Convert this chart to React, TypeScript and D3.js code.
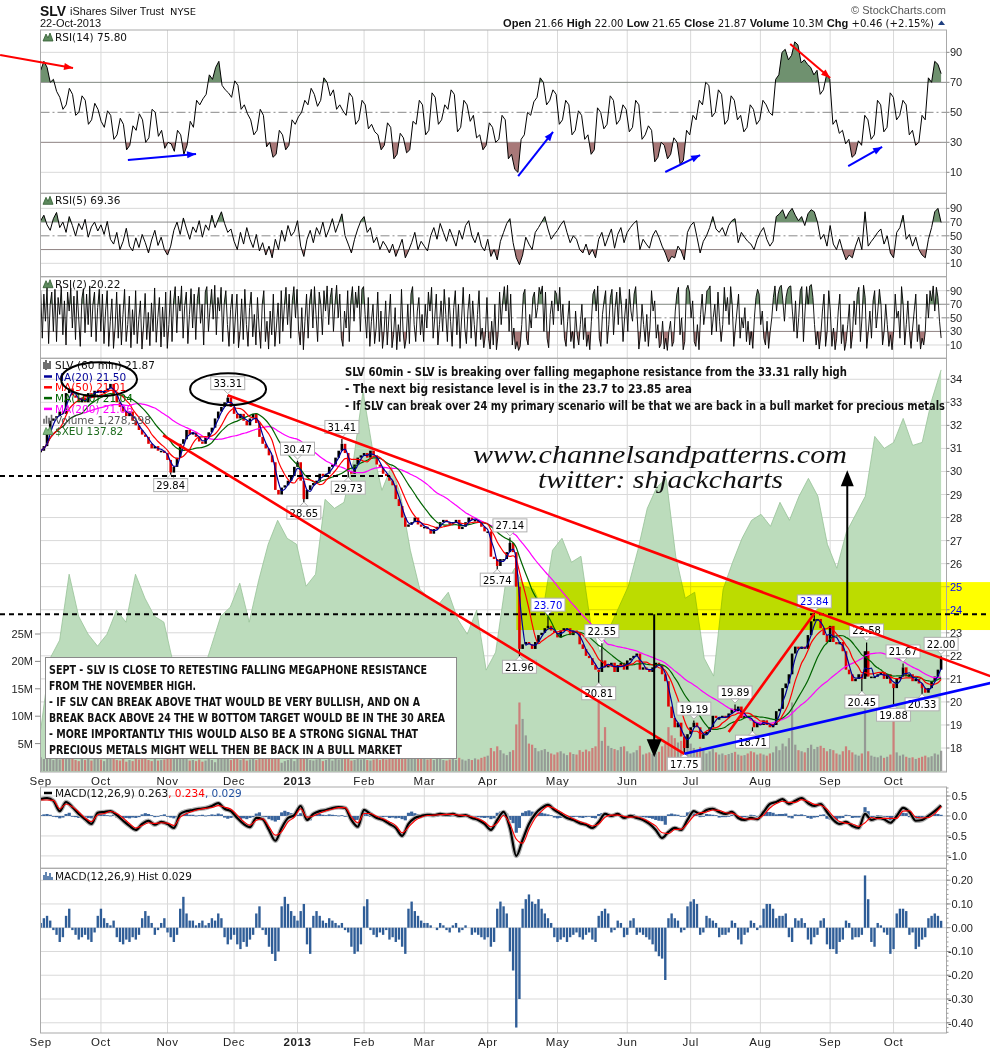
import React from 'react';
import * as d3 from 'd3';

// ---------------- DATA ----------------
const MONTH_LABELS = ['Sep', 'Oct', 'Nov', 'Dec', '2013', 'Feb', 'Mar', 'Apr', 'May', 'Jun', 'Jul', 'Aug', 'Sep', 'Oct'];
const MONTH_START = [0, 19, 40, 61, 81, 102, 121, 141, 163, 185, 205, 227, 249, 269];

// daily closes (trading-day index 0..284)
const CLOSE = [
  30.9, 31.1, 31.6, 32.2, 32.3, 32.4, 32.6, 32.5, 33.4, 33.6, 33.3, 33.2, 33.0, 33.2, 33.0, 33.4, 33.3, 33.5, 33.5,
  33.4, 33.5, 33.6, 33.8, 33.3, 33.0, 32.8, 32.6, 32.4, 32.6, 32.2, 32.0, 31.8, 31.6, 31.5, 31.2, 31.0, 31.1, 30.9, 30.9, 30.8,
  30.5, 29.95, 30.2, 30.6, 31.2, 31.4, 31.8, 31.6, 31.7, 31.5, 31.3, 31.2, 31.5, 31.7, 31.9, 32.3, 32.6, 32.8, 33.0, 33.2, 32.8,
  32.5, 32.3, 32.5, 32.2, 32.0, 32.3, 32.5, 32.1, 31.5, 31.2, 31.0, 30.7, 30.4, 29.2, 29.0, 29.3, 29.4, 29.6, 29.8, 30.2,
  30.4, 29.6, 28.8, 29.2, 29.4, 29.5, 29.6, 29.9, 29.8, 29.9, 30.2, 30.3, 30.6, 30.9, 31.2, 30.8, 30.0, 29.9, 30.3, 30.6, 30.7,
  30.8, 30.6, 30.9, 30.7, 30.3, 30.2, 29.9, 29.8, 29.6, 29.4, 28.8, 28.5, 28.0, 27.6, 27.7, 27.8, 28.0, 27.7, 27.6,
  27.6, 27.5, 27.3, 27.5, 27.6, 27.8, 27.9, 27.8, 27.7, 27.8, 27.9, 27.5, 27.6, 27.8, 28.0, 27.9, 27.9, 27.8, 27.6, 27.4,
  27.4, 26.3, 26.2, 25.9, 26.2, 26.2, 26.5, 26.9, 26.5, 25.0, 22.3, 22.5, 22.6, 22.5, 22.3, 22.6, 22.9, 23.0, 23.2, 23.3, 23.1, 23.0,
  22.8, 23.1, 23.2, 23.2, 22.9, 23.1, 23.0, 22.5, 22.3, 22.0, 21.9, 21.6, 21.4, 21.3, 21.8, 21.5, 21.6, 21.7, 21.3, 21.6, 21.7, 21.4,
  21.8, 21.9, 22.0, 22.1, 21.4, 21.5, 21.4, 21.3, 21.5, 21.7, 21.6, 21.2, 20.9, 19.8, 19.3, 18.9, 19.1, 18.5, 18.0, 18.6,
  18.9, 19.1, 18.9, 18.4, 18.6, 18.7, 18.9, 19.4, 19.3, 19.3, 19.4, 19.3, 19.5, 19.7, 19.6, 19.8, 19.3, 19.4, 19.3, 19.2, 18.9, 19.1,
  19.0, 19.2, 19.0, 18.9, 19.0, 19.6, 19.7, 20.6, 20.8, 21.2, 22.1, 22.4, 22.3, 22.4, 22.3, 22.9, 23.5, 23.6, 23.6, 23.2, 22.9, 22.6,
  23.3, 22.6, 22.5, 22.6, 22.2, 21.4, 21.2, 20.9, 21.0, 21.2, 21.0, 22.2, 21.1, 21.1, 21.1, 21.2, 21.3, 21.0, 21.2, 20.8,
  20.6, 21.0, 21.1, 21.5, 21.1, 21.2, 20.9, 21.0, 20.8, 20.6, 20.4, 20.6, 20.9, 21.1, 21.4, 21.87,
];

// hourly-scale volume (millions), one value per trading day
const VOLUME = [
  2.5, 2.2, 2.8, 3.5, 2.0, 2.4, 2.1, 3.0, 4.5, 3.8, 2.2, 2.0, 1.8, 2.3, 2.0, 2.6, 1.9, 2.2, 2.5,
  2.1, 1.8, 2.4, 3.2, 2.8, 2.0, 1.9, 2.2, 1.7, 2.0, 1.8, 2.3, 2.1, 2.6, 2.4, 2.0, 1.8, 2.2, 1.9, 2.0, 2.1,
  2.5, 4.0, 2.8, 2.2, 3.0, 2.4, 2.6, 1.9, 2.0, 1.8, 2.1, 1.7, 1.9, 2.2, 2.0, 1.6, 2.3, 2.5, 3.2, 2.4, 2.0,
  2.2, 2.5, 2.0, 2.3, 1.9, 2.1, 2.4, 2.0, 2.8, 2.5, 2.2, 2.6, 2.9, 4.2, 3.5, 1.5, 1.8, 2.0, 2.2, 1.8,
  2.6, 2.8, 3.5, 2.2, 2.0, 1.9, 2.1, 2.4, 1.8, 2.0, 2.2, 1.9, 2.3, 2.1, 2.6, 2.4, 2.2, 1.9, 2.0, 2.3, 2.1,
  2.2, 2.0, 1.9, 2.1, 2.3, 2.0, 2.2, 2.1, 2.4, 2.6, 3.2, 3.0, 3.6, 3.4, 2.8, 2.5, 2.4, 2.6, 2.2,
  2.3, 2.1, 2.4, 2.0, 2.2, 2.3, 2.0, 1.9, 2.1, 2.2, 2.0, 2.4, 2.1, 1.9, 2.2, 2.0, 2.3, 2.1, 2.4, 2.6,
  2.8, 4.2, 3.6, 4.5, 3.8, 3.2, 2.9, 3.5, 3.8, 8.5, 12.5, 9.5, 6.5, 5.0, 4.8, 4.2, 3.6, 3.8, 4.0, 3.5, 3.2, 3.0,
  3.4, 3.6, 3.2, 2.9, 3.4, 3.1, 3.0, 3.8, 3.5, 3.9, 3.6, 4.2, 4.5, 13.0, 5.5, 8.0, 4.6, 4.2, 4.0, 3.8, 4.4, 4.5,
  3.6, 3.2, 3.4, 3.8, 4.6, 3.0, 3.2, 3.4, 3.1, 3.3, 3.5, 4.5, 5.0, 8.0, 6.5, 6.0, 5.2, 5.5, 6.8, 5.8,
  5.0, 4.2, 3.6, 4.4, 3.8, 3.2, 3.6, 4.0, 3.4, 3.0, 3.2, 2.9, 3.1, 3.3, 3.5, 3.0, 2.8, 2.9, 3.2, 3.6, 3.4, 3.0,
  3.2, 3.0, 2.8, 3.2, 3.4, 4.5, 3.8, 5.0, 4.5, 6.0, 12.5, 4.8, 3.8, 3.6, 3.4, 4.2, 4.8, 4.0, 4.4, 4.6, 4.2, 3.6,
  4.0, 3.8, 3.2, 3.0, 3.6, 4.5, 3.8, 3.4, 3.0, 2.8, 3.2, 12.5, 3.6, 2.8, 2.6, 2.5, 2.8, 2.4, 2.6, 3.0,
  11.5, 3.4, 2.8, 3.0, 2.6, 2.4, 2.5, 2.2, 2.4, 2.6, 2.8, 2.5, 2.7, 3.2, 3.0, 3.7,
];

// $XEU overlay, roughly every third trading day
const XEU = [
  125.8, 128.2, 128.8, 131.0, 129.6, 129.0, 128.6, 129.0, 129.8, 129.4, 131.0, 130.2, 129.6, 129.4, 128.0, 127.6,
  127.0, 127.6, 128.6, 129.6, 129.9, 130.7, 129.4, 130.8, 132.0, 132.8, 132.2, 132.0, 130.6, 131.0, 133.5, 133.2,
  133.4, 134.8, 137.1, 135.2, 133.8, 134.6, 133.6, 131.8, 130.5, 130.2, 130.0, 130.4, 129.5, 129.0, 129.8, 127.8,
  128.4, 130.6, 131.2, 130.6, 130.5, 129.8, 131.8, 132.2, 131.4, 131.6, 129.4, 128.4, 129.2, 129.9, 130.6, 131.8,
  133.2, 133.9, 134.2, 131.6, 130.2, 130.4, 128.2, 127.6, 130.5, 131.4, 132.2, 132.8, 133.0, 132.6, 133.4, 132.8,
  133.6, 134.2, 133.6, 132.0, 131.2, 132.4, 133.0, 133.6, 135.6, 135.2, 135.4, 136.2, 135.3, 135.4, 136.8, 137.82,
];

// RSI(14), daily
const RSI14 = [
  78, 84, 80, 70, 72, 64, 60, 52, 55, 66, 62, 48, 50, 61, 58, 42, 45, 56, 52,
  44, 40, 51, 48, 32, 35, 46, 42, 25, 28, 41, 38, 49, 45, 30, 33, 52, 50,
  34, 38, 26, 30, 29, 24, 38, 35, 22, 28, 44, 40,
  58, 55, 59, 62, 75, 72, 80, 84, 68, 65, 63, 60,
  71, 68, 52, 55, 49, 45, 35, 38, 52, 48, 27, 30,
  20, 22, 38, 35, 25, 28, 45, 42,
  47, 50, 58, 55, 66, 62, 54, 58, 73, 70, 61, 65, 52, 55,
  51, 48, 63, 60, 42, 45, 58, 55, 39, 42,
  37, 35, 25, 28, 43, 40, 19, 22, 36, 33, 23, 25,
  44, 42, 58, 55, 35, 38, 63, 60, 42, 45, 55, 52, 65, 62, 37, 40, 58, 55, 44, 48,
  33, 35, 25, 28, 43, 40, 30, 32,
  48, 45, 19, 22, 12, 10,
  32, 35, 50, 48, 57, 60, 73, 70, 55, 58, 65, 62,
  42, 45, 58, 55, 35, 38, 51, 48, 32, 35, 22, 25,
  53, 50, 39, 42, 61, 58, 42, 45, 55, 52, 37, 40, 58, 55, 32, 35, 41, 38, 17, 20,
  30, 28, 19, 22, 33, 30, 15, 18, 38, 35, 48, 45,
  58, 55, 70, 68, 47, 50, 65, 62, 42, 45, 61, 58, 45, 48,
  37, 40, 55, 52, 42, 45, 58, 55, 50, 48,
  72, 75, 90, 92, 85, 88, 97, 95, 83, 85, 82, 80,
  75, 78, 62, 65, 75, 72, 42, 45,
  36, 38, 29, 32, 20, 22, 31, 28,
  48, 45, 32, 35, 58, 55, 37, 40, 63, 60, 45, 48,
  58, 55, 35, 38, 28, 30, 48, 45,
  73, 70, 84, 82, 75.8,
];

// RSI(5), daily
const RSI5 = [
  72, 80, 66, 58, 75, 84, 62, 70, 55, 78, 65, 50, 68, 59, 74, 48, 63, 70, 57,
  66, 52, 71, 45, 38, 55, 30, 42, 61, 35, 28, 47, 33, 52, 40, 25, 44, 58, 36, 48, 30,
  22, 35, 58, 70, 52, 76, 60, 45, 63, 55, 72, 48, 66, 58, 80, 62, 74, 85, 68, 55, 60,
  42, 30, 55, 38, 62, 45, 33, 52, 28, 40, 22, 35, 18, 45, 30, 58, 42, 65, 50, 56,
  72, 35, 20, 45, 58, 40, 62, 52, 70, 48, 60, 75, 55, 68, 82, 50, 38, 25, 45, 60, 72,
  78, 55, 62, 40, 48, 30, 42, 35, 25, 38, 20, 32, 45, 18, 28, 40, 55, 30, 42,
  35, 28, 50, 62, 45, 68, 55, 42, 60, 48, 35, 58, 45, 65, 72, 50, 40, 55, 35, 28,
  45, 20, 30, 15, 42, 55, 68, 75, 40, 18, 8, 22, 48, 38, 30, 55, 62, 70, 78, 60, 45, 52,
  58, 66, 72, 55, 40, 50, 45, 30, 25, 38, 22, 30, 18, 45, 55, 35, 48, 60, 32, 52, 62, 40,
  55, 62, 68, 72, 30, 45, 38, 32, 50, 58, 48, 35, 25, 12, 20, 18, 35, 28, 15, 55,
  65, 70, 48, 25, 42, 50, 62, 78, 60, 55, 62, 50, 65, 72, 75, 40, 55, 48, 42, 38, 30, 45,
  55, 62, 45, 35, 42, 78, 82, 88, 75, 84, 90, 80, 72, 78, 65, 82, 88, 85, 70, 45, 52, 35,
  65, 38, 30, 45, 28, 15, 22, 18, 35, 48, 30, 85, 35, 42, 48, 55, 60, 38, 50, 25,
  18, 55, 62, 80, 45, 52, 35, 48, 30, 22, 18, 45, 62, 85, 90, 69.36,
];

// RSI(2), two readings per trading day
const RSI2 = [
  90, 20, 85, 45, 95, 12, 70, 88, 30, 92, 15, 80, 55, 96, 25, 75, 10, 88, 60, 94,
  35, 82, 18, 90, 50, 8, 78, 93, 28, 85, 40, 97, 22, 70, 88, 15, 65, 92,
  30, 85, 12, 60, 90, 8, 45, 78, 5, 35, 88, 20, 70, 10, 55, 92, 15, 40, 82, 6,
  62, 25, 90, 12, 48, 75, 4, 38, 86, 18, 58, 9, 72, 30, 94, 14, 50, 80, 7, 66, 22, 88,
  5, 40, 90, 15, 75, 96, 28, 82, 60, 97, 20, 68, 88, 12, 55, 93, 35, 85, 18, 78,
  95, 42, 70, 10, 88, 96, 30, 65, 92, 48, 98, 25, 80, 60, 95, 15, 72, 90, 40, 8, 62, 85,
  12, 50, 85, 6, 30, 78, 18, 92, 40, 8, 65, 88, 22, 55, 10, 80, 35, 5, 70, 90,
  15, 45, 4, 60, 25, 85, 8, 38, 72, 12, 90, 30, 68, 95, 40, 85, 20, 75, 96, 50,
  92, 30, 10, 65, 3, 45, 85, 20, 75, 92, 35, 96, 55, 15, 88, 70, 25, 90, 60, 97,
  40, 80, 94, 30, 72, 98, 50, 85, 20, 8, 60, 35, 90, 15, 75, 96, 45, 88, 65, 97, 30, 92,
  96, 55, 20, 80, 8, 45, 70, 12, 35, 88, 15, 60, 5, 30, 75, 10, 50, 85, 6, 25,
  65, 3, 40, 15, 92, 30, 5, 20, 70, 12, 85, 96, 40, 15, 60, 80, 25, 55,
  15, 70, 35, 88, 60, 95, 20, 50, 85, 10, 40, 75, 30, 92, 55, 15, 80, 45, 8, 65,
  90, 25, 70, 5, 50, 95, 35, 12, 60, 85, 20, 75, 40, 8, 55, 90, 18, 35, 6, 25,
  80, 20, 4, 45, 10, 70, 3, 25, 88, 40, 75, 96, 60, 98, 30, 85, 10, 35, 4, 15,
  2, 8, 40, 85, 92, 20, 10, 55, 35, 80, 88, 50, 65, 95, 85, 97, 30, 88, 20, 6, 55, 75, 40, 90,
  85, 60, 95, 40, 70, 20, 8, 45, 75, 15, 30, 5, 60, 25, 10, 40, 70, 18, 50, 8,
  25, 3, 45, 85, 92, 60, 97, 20, 8, 55, 75, 90, 12, 40, 80, 92, 25, 65, 88, 40, 95, 70, 15, 50,
  78, 30, 92, 60, 45, 85, 96, 50, 4, 25, 70, 40, 15, 55, 8, 35, 90, 60, 75, 20,
  40, 6, 12, 45, 4, 20, 2, 30, 45, 8, 15, 60, 85, 95, 25, 50, 3, 15, 92, 98,
  88, 50, 75, 15, 8, 40, 3, 55, 85, 40, 60, 90, 92, 97, 25, 50, 70, 30, 88, 45,
  15, 40, 95, 60, 80, 40, 96, 70, 8, 35, 60, 85, 20, 50, 35, 65, 15, 45, 10, 30, 5, 50, 80, 92,
  85, 40, 60, 20, 10, 45, 5, 30, 50, 80, 97, 60, 85, 95, 98, 75, 45, 80, 92, 96,
  97, 60, 30, 75, 20, 50, 90, 96, 15, 60, 96, 70, 97, 99, 80, 40, 10, 30, 4, 25, 60, 85, 8, 30,
  90, 60, 8, 35, 3, 20, 60, 85, 12, 40, 2, 15, 40, 70, 5, 25, 75, 40, 85, 95,
  15, 50, 98, 80, 5, 30, 60, 20, 75, 90, 35, 60, 92, 70, 10, 30, 70, 40, 8, 25,
  3, 30, 85, 50, 60, 20, 96, 70, 10, 40, 75, 30, 5, 35, 60, 85, 15, 40, 4, 20,
  10, 30, 85, 50, 90, 75, 97, 60, 95, 80, 45, 20.22,
];

// MACD(12,26,9) line, every second trading day
const MACD = [
  0.42, 0.45, 0.38, 0.12, 0.35, 0.22, 0.05, -0.08, -0.2, 0.08,
  0.1, 0.12, 0.02, -0.12, -0.25, -0.35, -0.2, -0.12, -0.22, -0.15,
  -0.2, -0.3, 0.05, 0.12, 0.15, 0.18, 0.2, 0.25, 0.32, 0.18,
  0.12, -0.05, -0.2, -0.28, -0.05, -0.08, -0.35, -0.62, -0.3, -0.05,
  0.02, 0.25, -0.1, 0.05, 0.12, 0.15, 0.2, 0.22, 0.2, -0.1,
  -0.27, 0.15, 0.05, -0.05, -0.1, -0.2, -0.3, -0.5, -0.2, -0.05,
  0.0, 0.03, 0.02, 0.05, 0.03, 0.05, 0.0, 0.02, -0.05, -0.1,
  -0.2, -0.35, -0.1, 0.1, -0.3, -1.0, -0.6, -0.2, 0.05, 0.2,
  0.28, 0.15, 0.05, -0.05, -0.1, -0.18, -0.22, -0.3, -0.15, 0.05,
  0.0, 0.05, -0.05, 0.0, -0.05, -0.1, -0.2, -0.35, -0.55, -0.4,
  -0.3, -0.35, -0.1, 0.12, 0.05, 0.15, 0.18, 0.1, 0.05, 0.1,
  -0.05, -0.1, -0.05, -0.08, 0.1, 0.3, 0.35, 0.42, 0.3, 0.38,
  0.45, 0.32, 0.25, 0.3, 0.1, -0.1, -0.2, -0.15, -0.25, -0.3,
  0.05, -0.1, -0.05, -0.08, -0.17, 0.0, 0.2, 0.1, -0.12, -0.1,
  0.0, 0.12, 0.263,
];

// MACD histogram, daily
const HIST = [
  0.02, 0.04, 0.05, 0.03, -0.01, -0.03, -0.06, -0.04, 0.05, 0.08, -0.01, -0.03, -0.05, -0.04, -0.03, -0.05, -0.06, -0.02, 0.05, 0.08,
  0.04, 0.02, 0.01, 0.03, -0.04, -0.06, -0.07, -0.05, -0.06, -0.04, -0.05, -0.03, 0.04, 0.07, 0.05, 0.02, -0.03, -0.01, 0.02, 0.04,
  -0.02, -0.04, -0.06, -0.03, 0.08, 0.13, 0.06, 0.03, 0.03, 0.01, 0.02, 0.03, 0.01, 0.02, 0.04, 0.03, 0.06, 0.04, -0.04, -0.07,
  -0.05, -0.03, -0.07, -0.09, -0.06, -0.08, -0.05, -0.03, 0.06, 0.09, -0.01, -0.03, -0.08, -0.11, -0.14, -0.1, 0.09, 0.13, 0.1, 0.07,
  0.05, 0.03, 0.07, 0.1, -0.07, -0.11, 0.05, 0.07, 0.05, 0.03, 0.02, 0.04, 0.03, 0.02, 0.01, 0.02, -0.01, -0.02, -0.08, -0.11,
  -0.1, -0.07, 0.09, 0.12, -0.01, -0.03, -0.04, -0.02, -0.03, -0.01, -0.05, -0.04, -0.06, -0.05, -0.08, -0.11, 0.08, 0.11, 0.07, 0.05,
  0.03, 0.02, 0.02, 0.01, 0.0, -0.01, 0.02, 0.01, -0.01, -0.02, 0.01, 0.02, -0.02, -0.01, 0.01, 0.0, -0.03, -0.02, -0.03, -0.04,
  -0.05, -0.04, -0.08, -0.06, 0.08, 0.11, 0.09, 0.06, -0.1, -0.18, -0.42, -0.3, 0.08, 0.12, 0.14, 0.11, 0.1, 0.12, 0.08, 0.06,
  0.04, 0.02, -0.04, -0.06, -0.05, -0.04, -0.06, -0.04, -0.03, -0.02, -0.04, -0.05, -0.03, -0.02, -0.05, -0.06, 0.05, 0.07, 0.08, 0.06,
  -0.02, -0.01, 0.03, 0.02, -0.04, -0.03, 0.03, 0.04, -0.03, -0.02, -0.03, -0.04, -0.05, -0.07, -0.1, -0.12, -0.13, -0.22, 0.04, 0.06,
  0.04, 0.03, -0.02, -0.01, 0.09, 0.11, 0.12, 0.1, -0.03, -0.02, 0.05, 0.04, 0.03, 0.02, -0.04, -0.03, -0.03, -0.02, 0.03, 0.02,
  -0.05, -0.07, -0.03, -0.02, 0.03, 0.02, -0.01, 0.01, 0.08, 0.1, 0.1, 0.08, 0.04, 0.05, 0.05, 0.06, -0.04, -0.06, 0.04, 0.03,
  0.04, 0.02, -0.05, -0.07, -0.04, -0.03, 0.03, 0.04, -0.07, -0.09, -0.09, -0.11, -0.06, -0.05, 0.03, 0.02, -0.05, -0.04, -0.04, -0.03,
  0.22, 0.12, -0.06, -0.08, 0.02, 0.01, -0.02, -0.03, -0.11, -0.09, 0.06, 0.08, 0.08, 0.07, -0.03, -0.02, -0.09, -0.08, -0.05, -0.04,
  0.04, 0.05, 0.06, 0.05, 0.029,
];

// price annotations: trading-day index, price, above/below, colour
const PRICE_LABELS = [
  { d: 59, v: 33.31, pos: 'hi', c: '#000' },
  { d: 41, v: 29.84, pos: 'lo', c: '#000' },
  { d: 81, v: 30.47, pos: 'hi', c: '#000' },
  { d: 83, v: 28.65, pos: 'lo', c: '#000' },
  { d: 95, v: 31.41, pos: 'hi', c: '#000' },
  { d: 97, v: 29.73, pos: 'lo', c: '#000' },
  { d: 148, v: 27.14, pos: 'hi', c: '#000' },
  { d: 144, v: 25.74, pos: 'lo', c: '#000' },
  { d: 160, v: 23.70, pos: 'hi', c: '#0000ee' },
  { d: 151, v: 21.96, pos: 'lo', c: '#000' },
  { d: 177, v: 22.55, pos: 'hi', c: '#000' },
  { d: 176, v: 20.81, pos: 'lo', c: '#000' },
  { d: 206, v: 19.19, pos: 'hi', c: '#000' },
  { d: 203, v: 17.75, pos: 'lo', c: '#000' },
  { d: 219, v: 19.89, pos: 'hi', c: '#000' },
  { d: 224.5, v: 18.71, pos: 'lo', c: '#000' },
  { d: 244, v: 23.84, pos: 'hi', c: '#0000ee' },
  { d: 260.5, v: 22.58, pos: 'hi', c: '#000' },
  { d: 259, v: 20.45, pos: 'lo', c: '#000' },
  { d: 272, v: 21.67, pos: 'hi', c: '#000' },
  { d: 269, v: 19.88, pos: 'lo', c: '#000' },
  { d: 278, v: 20.33, pos: 'lo', c: '#000' },
  { d: 284, v: 22.00, pos: 'hi', c: '#000' },
];

const PRICE_TICKS = [18, 19, 20, 21, 22, 23, 24, 25, 26, 27, 28, 29, 30, 31, 32, 33, 34];
const VOL_TICKS = [5, 10, 15, 20, 25];
const RSI_TICKS = [90, 70, 50, 30, 10];
const MACD_TICKS = [0.5, 0.0, -0.5, -1.0];
const HIST_TICKS = [0.2, 0.1, 0.0, -0.1, -0.2, -0.3, -0.4];

const SANS = 'Liberation Sans, Arial, Helvetica, sans-serif';
const VERD = 'DejaVu Sans, Verdana, sans-serif';
const NARROW = 'Liberation Sans Narrow, DejaVu Sans Condensed, Arial Narrow, sans-serif';

function sma(arr: number[], w: number) {
  return arr.map((_, i) => d3.mean(arr.slice(Math.max(0, i - w + 1), i + 1)) as number);
}

function head(x1: number, y1: number, x2: number, y2: number, len: number, wid: number) {
  const a = Math.atan2(y2 - y1, x2 - x1);
  const bx = x2 - len * Math.cos(a), by = y2 - len * Math.sin(a);
  const px = Math.sin(a) * wid / 2, py = -Math.cos(a) * wid / 2;
  return `${x2},${y2} ${bx + px},${by + py} ${bx - px},${by - py}`;
}

export default function App() {
  const X0 = 40.5, X1 = 946.5, PW = X1 - X0;
  const x = d3.scaleLinear().domain([0, 285.7]).range([40.7, 946.5]);
  const xi = (n: number) => (i: number) => x((i * 284) / (n - 1));

  const P = {
    rsi14: { top: 30, bottom: 193.3, y: d3.scaleLinear().domain([-4, 104.9]).range([193.3, 30]) },
    rsi5: { top: 193.3, bottom: 276.7, y: d3.scaleLinear().domain([-9.5, 111.9]).range([276.7, 193.3]) },
    rsi2: { top: 276.7, bottom: 358.3, y: d3.scaleLinear().domain([-9.6, 110.6]).range([358.3, 276.7]) },
    main: { top: 358.3, bottom: 772, y: d3.scaleLinear().domain([16.96, 34.91]).range([772, 358.3]) },
    macd: { top: 787, bottom: 868.3, y: d3.scaleLinear().domain([-1.31, 0.725]).range([868.3, 787]) },
    hist: { top: 868.3, bottom: 1033, y: d3.scaleLinear().domain([-0.443, 0.25]).range([1033, 868.3]) },
  };
  const yP = P.main.y;
  const yV = d3.scaleLinear().domain([0, 25]).range([771, 634]);
  const yX = d3.scaleLinear().domain([124.4, 137.9]).range([772, 367.5]);

  const GRID = '#d9d9d9';
  const BORDER = '#a9a9a9';
  const monthXs = MONTH_START.map((d) => x(d));

  const vGrid = (top: number, bottom: number, k: string) =>
    monthXs.slice(1).map((mx, i) => <line key={k + i} x1={mx} x2={mx} y1={top} y2={bottom} stroke={GRID} strokeWidth={1} />);

  // ---- RSI panels
  const rsiPanel = (key: string, p: any, data: number[], label: string, sw: number) => {
    const n = data.length;
    const fx = xi(n);
    const line = d3.line<number>().x((_, i) => fx(i)).y((v) => p.y(v));
    const aHi = d3.area<number>().x((_, i) => fx(i)).y0(p.y(70)).y1((v) => p.y(v));
    const aLo = d3.area<number>().x((_, i) => fx(i)).y0(p.y(30)).y1((v) => p.y(v));
    return (
      <g key={key}>
        <defs>
          <clipPath id={key + 'hi'}><rect x={X0} y={p.top} width={PW} height={p.y(70) - p.top} /></clipPath>
          <clipPath id={key + 'lo'}><rect x={X0} y={p.y(30)} width={PW} height={p.bottom - p.y(30)} /></clipPath>
        </defs>
        {vGrid(p.top, p.bottom, key + 'vg')}
        {[90, 10].map((t) => <line key={t} x1={X0} x2={X1} y1={p.y(t)} y2={p.y(t)} stroke={GRID} />)}
        <line x1={X0} x2={X1} y1={p.y(70)} y2={p.y(70)} stroke="#8a8a8a" strokeWidth={1} />
        <line x1={X0} x2={X1} y1={p.y(30)} y2={p.y(30)} stroke="#8a8a8a" strokeWidth={1} />
        <line x1={X0} x2={X1} y1={p.y(50)} y2={p.y(50)} stroke="#8a8a8a" strokeWidth={1} strokeDasharray="9,3,2,3" />
        <path d={aHi(data) || ''} fill="#6f916f" clipPath={`url(#${key}hi)`} />
        <path d={aLo(data) || ''} fill="#a87878" clipPath={`url(#${key}lo)`} />
        <path d={line(data) || ''} fill="none" stroke="#000" strokeWidth={sw} />
        <rect x={X0} y={p.top} width={PW} height={p.bottom - p.top} fill="none" stroke={BORDER} />
        {RSI_TICKS.map((t) => (
          <g key={'t' + t}>
            <line x1={X1} x2={X1 + 3} y1={p.y(t)} y2={p.y(t)} stroke="#888" />
            <text x={950} y={p.y(t) + 4} fontFamily={SANS} fontSize={11} fill="#222">{t}</text>
          </g>
        ))}
        <path d={`M43,${p.top + 11} L46,${p.top + 4} L48,${p.top + 8} L50,${p.top + 3} L53,${p.top + 11} Z`} fill="#5d8a5d" stroke="#2f5a2f" strokeWidth={0.8} />
        <text x={55} y={p.top + 11} fontFamily={VERD} fontSize={10.5} fill="#111">{label}</text>
      </g>
    );
  };

  // ---- main panel series
  const ma20 = sma(CLOSE, 3), ma50 = sma(CLOSE, 7), ma100 = sma(CLOSE, 14), ma200 = sma(CLOSE, 29);
  const fxD = xi(CLOSE.length);
  const maLine = d3.line<number>().x((_, i) => fxD(i)).y((v) => yP(v)).curve(d3.curveMonotoneX);
  const fxX = xi(XEU.length);
  const xeuArea = d3.area<number>().x((_, i) => fxX(i)).y0(772).y1((v) => yX(v));
  const xeuLine = d3.line<number>().x((_, i) => fxX(i)).y((v) => yX(v));

  // ---- MACD
  const fxM = xi(MACD.length);
  const fxH = xi(HIST.length);
  const SIGNAL = MACD.map((m, i) => m - HIST[Math.min(HIST.length - 1, i * 2)]);
  const macdLine = d3.line<number>().x((_, i) => fxM(i)).y((v) => P.macd.y(v)).curve(d3.curveMonotoneX);
  const hW = fxH(1) - fxH(0);

  const pt = (d: number, v: number) => [x(d), yP(v)];
  const rsiPt = (d: number, v: number) => [x(d), P.rsi14.y(v)];

  const arrowsRSI = [
    { a: rsiPt(-12.8, 88.2), b: rsiPt(10.2, 79.5), c: '#ff0000' },
    { a: rsiPt(27.5, 18.2), b: rsiPt(49, 22.2), c: '#0000ff' },
    { a: rsiPt(150.6, 7.5), b: rsiPt(161.6, 36.9), c: '#0000ff' },
    { a: rsiPt(197, 10.2), b: rsiPt(208, 21.5), c: '#0000ff' },
    { a: rsiPt(254.7, 14.2), b: rsiPt(265.4, 26.9), c: '#0000ff' },
    { a: rsiPt(236.4, 95.5), b: rsiPt(249, 72.9), c: '#ff0000' },
  ];

  const trendLines = [
    { a: pt(59, 33.31), b: pt(299.5, 21.12), c: '#ff0000' },
    { a: pt(38.6, 31.57), b: pt(203, 17.75), c: '#ff0000' },
    { a: pt(217, 18.7), b: pt(244, 23.84), c: '#ff0000' },
    { a: pt(203, 17.75), b: pt(299.5, 20.82), c: '#0000ff' },
  ];

  const SEPT_LINES = [
    { t: 'SEPT - SLV IS CLOSE TO RETESTING FALLING MEGAPHONE RESISTANCE', w: 378 },
    { t: 'FROM THE NOVEMBER HIGH.', w: 147 },
    { t: '- IF SLV CAN BREAK ABOVE THAT WOULD BE VERY BULLISH, AND ON A', w: 371 },
    { t: 'BREAK BACK ABOVE 24 THE W BOTTOM TARGET WOULD BE IN THE 30 AREA', w: 396 },
    { t: '- MORE IMPORTANTLY THIS WOULD ALSO BE A STRONG SIGNAL THAT', w: 369 },
    { t: 'PRECIOUS METALS MIGHT WELL THEN BE BACK IN A BULL MARKET', w: 353 },
  ];

  const TOP_NOTES = [
    { t: 'SLV 60min - SLV is breaking over falling megaphone resistance from the 33.31 rally high', w: 502 },
    { t: '- The next big resistance level is in the 23.7 to 23.85 area', w: 347 },
    { t: '- If SLV can break over 24 my primary scenario will be that we are back in a bull market for precious metals', w: 600 },
  ];

  const legendRows = [
    { t: 'MA(20) 21.50', c: '#000099', dash: true },
    { t: 'MA(50) 21.01', c: '#ff0000', dash: true },
    { t: 'MA(100) 21.04', c: '#006400', dash: true },
    { t: 'MA(200) 21.06', c: '#ff00ff', dash: true },
    { t: 'Volume 1,278,998', c: '#555555', dash: false },
    { t: '$XEU  137.82', c: '#1d6b1d', dash: false },
  ];

  const arrowDown = { a: pt(193.5, 23.8), b: pt(193.5, 17.6) };
  const arrowUp = { a: pt(254.4, 23.8), b: pt(254.4, 30.05) };

  return (
    <svg width={990} height={1051} style={{ position: 'absolute', left: 0, top: 0, background: '#fff' }}
      xmlns="http://www.w3.org/2000/svg">
      <defs>
        <clipPath id="mainclip"><rect x={X0} y={P.main.top} width={PW} height={P.main.bottom - P.main.top} /></clipPath>
        <clipPath id="macdclip"><rect x={X0} y={P.macd.top} width={PW} height={P.macd.bottom - P.macd.top} /></clipPath>
        <clipPath id="histclip"><rect x={X0} y={P.hist.top} width={PW} height={P.hist.bottom - P.hist.top} /></clipPath>
      </defs>
      <rect x={0} y={0} width={990} height={1051} fill="#fff" />

      {/* header */}
      <text x={40} y={16} fontFamily={SANS} fontSize={15.5} fontWeight="bold" fill="#111" textLength={26} lengthAdjust="spacingAndGlyphs">SLV</text>
      <text x={70} y={15} fontFamily={SANS} fontSize={11.5} fill="#111" textLength={94} lengthAdjust="spacingAndGlyphs">iShares Silver Trust</text>
      <text x={170} y={15} fontFamily={VERD} fontSize={9.5} fill="#111" textLength={26} lengthAdjust="spacingAndGlyphs">NYSE</text>
      <text x={40} y={27} fontFamily={SANS} fontSize={11} fill="#111">22-Oct-2013</text>
      <text x={946} y={14} textAnchor="end" fontFamily={SANS} fontSize={11} fill="#555">© StockCharts.com</text>
      <text x={503} y={27} fontFamily={SANS} fontSize={11} fill="#111" textLength={431} lengthAdjust="spacingAndGlyphs">
        <tspan fontWeight="bold">Open</tspan><tspan fontFamily={VERD} fontSize={10}> 21.66  </tspan>
        <tspan fontWeight="bold">High</tspan><tspan fontFamily={VERD} fontSize={10}> 22.00  </tspan>
        <tspan fontWeight="bold">Low</tspan><tspan fontFamily={VERD} fontSize={10}> 21.65  </tspan>
        <tspan fontWeight="bold">Close</tspan><tspan fontFamily={VERD} fontSize={10}> 21.87  </tspan>
        <tspan fontWeight="bold">Volume</tspan><tspan fontFamily={VERD} fontSize={10}> 10.3M  </tspan>
        <tspan fontWeight="bold">Chg</tspan><tspan fontFamily={VERD} fontSize={10}> +0.46 (+2.15%)</tspan>
      </text>
      <path d="M938,25 L941.5,20.5 L945,25 Z" fill="#1f3f7f" />

      {/* RSI panels */}
      {rsiPanel('r14', P.rsi14, RSI14, 'RSI(14) 75.80', 1)}
      {rsiPanel('r5', P.rsi5, RSI5, 'RSI(5) 69.36', 1)}
      {rsiPanel('r2', P.rsi2, RSI2, 'RSI(2) 20.22', 0.9)}

      {/* RSI arrows */}
      {arrowsRSI.map((r, i) => (
        <g key={'ra' + i}>
          <line x1={r.a[0]} y1={r.a[1]} x2={r.b[0]} y2={r.b[1]} stroke={r.c} strokeWidth={2} />
          <polygon points={head(r.a[0], r.a[1], r.b[0], r.b[1], 9, 7)} fill={r.c} />
        </g>
      ))}

      {/* MAIN PANEL */}
      <g>
        {vGrid(P.main.top, P.main.bottom, 'mg')}
        {d3.range(17, 35).map((t) => <line key={'hg' + t} x1={X0} x2={X1} y1={yP(t)} y2={yP(t)} stroke={GRID} />)}
        <g clipPath="url(#mainclip)">
          <path d={xeuArea(XEU) || ''} fill="#bcdcbc" />
          <path d={xeuLine(XEU) || ''} fill="none" stroke="#97c297" strokeWidth={0.8} />
        </g>
        {/* yellow resistance band */}
        <rect x={x(150)} y={yP(25.2)} width={990 - x(150)} height={yP(23.12) - yP(25.2)} fill="#ffff00"
          style={{ mixBlendMode: 'multiply' }} />
        <g clipPath="url(#mainclip)">
          {VOLUME.map((v, i) => {
            const up = i === 0 || CLOSE[i] >= CLOSE[i - 1];
            return <rect key={'v' + i} x={fxD(i) - 1.1} width={2.2} y={yV(v)} height={yV(0) - yV(v)}
              fill={up ? '#8e8e8e' : '#cf6f6f'} opacity={0.85} />;
          })}
          {CLOSE.map((c, i) => {
            const o = i > 0 ? CLOSE[i - 1] : c;
            const y1 = yP(Math.max(o, c)), y2 = yP(Math.min(o, c));
            return <rect key={'c' + i} x={fxD(i) - 1.3} width={2.6} y={y1} height={Math.max(1.6, y2 - y1)}
              fill={c >= o ? '#000' : '#e00000'} />;
          })}
          {PRICE_LABELS.map((l, i) => {
            const ci = Math.min(CLOSE.length - 1, Math.round(l.d));
            return <line key={'w' + i} x1={x(l.d)} x2={x(l.d)} y1={yP(CLOSE[ci])} y2={yP(l.v)} stroke="#000" strokeWidth={1.2} />;
          })}
          <path d={maLine(ma200) || ''} fill="none" stroke="#ff00ff" strokeWidth={1.2} />
          <path d={maLine(ma100) || ''} fill="none" stroke="#006400" strokeWidth={1.2} />
          <path d={maLine(ma50) || ''} fill="none" stroke="#ff0000" strokeWidth={1.2} />
          <path d={maLine(ma20) || ''} fill="none" stroke="#000099" strokeWidth={1.2} />
        </g>
        <rect x={X0} y={P.main.top} width={PW} height={P.main.bottom - P.main.top} fill="none" stroke={BORDER} />

        {/* price axis */}
        {PRICE_TICKS.map((t) => (
          <g key={'pt' + t}>
            <line x1={X1} x2={X1 + 3} y1={yP(t)} y2={yP(t)} stroke="#888" />
            <text x={950} y={yP(t) + 4} fontFamily={SANS} fontSize={11} fill={t === 24 || t === 25 ? '#0000ff' : '#222'}>{t}</text>
          </g>
        ))}
        {VOL_TICKS.map((t) => (
          <g key={'vt' + t}>
            <line x1={35} x2={X0} y1={yV(t)} y2={yV(t)} stroke="#888" />
            <text x={33} y={yV(t) + 4} textAnchor="end" fontFamily={SANS} fontSize={11} fill="#222">{t}M</text>
          </g>
        ))}
        {MONTH_LABELS.map((m, i) => (
          <text key={'ml' + i} x={monthXs[i]} y={785} textAnchor="middle" fontFamily={SANS} fontSize={11.5}
            fontWeight={m === '2013' ? 'bold' : 'normal'} letterSpacing={0.6} fill="#222">{m}</text>
        ))}

        {/* price labels */}
        {PRICE_LABELS.map((l, i) => {
          const cx = x(l.d), py = yP(l.v);
          const hi = l.pos === 'hi';
          const cy = hi ? py - 12 : py + 10;
          const w = 34, h = 13;
          return (
            <g key={'pl' + i}>
              <rect x={cx - w / 2} y={cy - h / 2} width={w} height={h} fill="#fff" stroke="#b0b0b0" strokeWidth={1} />
              <polygon points={hi ? `${cx - 4},${cy + h / 2} ${cx + 4},${cy + h / 2} ${cx},${cy + h / 2 + 4}`
                : `${cx - 4},${cy - h / 2} ${cx + 4},${cy - h / 2} ${cx},${cy - h / 2 - 4}`} fill="#fff" stroke="#b0b0b0" />
              <text x={cx} y={cy + 4} textAnchor="middle" fontFamily={VERD} fontSize={10} fill={l.c}>{l.v.toFixed(2)}</text>
            </g>
          );
        })}

        {/* annotations */}
        <line x1={0} x2={x(110.2)} y1={yP(29.8)} y2={yP(29.8)} stroke="#000" strokeWidth={2} strokeDasharray="5,4" />
        <line x1={0} x2={990} y1={yP(23.8)} y2={yP(23.8)} stroke="#000" strokeWidth={2} strokeDasharray="5,4" />
        {trendLines.map((t, i) => (
          <line key={'tl' + i} x1={t.a[0]} y1={t.a[1]} x2={t.b[0]} y2={t.b[1]} stroke={t.c} strokeWidth={2.6} />
        ))}
        <line x1={arrowDown.a[0]} y1={arrowDown.a[1]} x2={arrowDown.b[0]} y2={arrowDown.b[1] - 12} stroke="#000" strokeWidth={2} />
        <polygon points={head(arrowDown.a[0], arrowDown.a[1], arrowDown.b[0], arrowDown.b[1], 18, 15)} fill="#000" />
        <line x1={arrowUp.a[0]} y1={arrowUp.a[1]} x2={arrowUp.b[0]} y2={arrowUp.b[1] + 12} stroke="#000" strokeWidth={2} />
        <polygon points={head(arrowUp.a[0], arrowUp.a[1], arrowUp.b[0], arrowUp.b[1], 16, 13)} fill="#000" />

        {/* legend */}
        <g>
          <path d="M44,362 v7 M46,360 v10 M48,363 v6 M50,361 v8" stroke="#222" strokeWidth={1.3} />
          <text x={55} y={369} fontFamily={VERD} fontSize={10.5} fill="#111">SLV (60 min) 21.87</text>
          {legendRows.map((r, i) => {
            const by = 380.5 + i * 10.8;
            return (
              <g key={'lg' + i}>
                {r.dash && <line x1={44} x2={52} y1={by - 4} y2={by - 4} stroke={r.c} strokeWidth={2.5} />}
                {i === 4 && <path d={`M44,${by} v-5 M46.5,${by} v-8 M49,${by} v-6 M51.5,${by} v-9`} stroke="#666" strokeWidth={1.6} />}
                {i === 5 && <path d={`M43,${by} L46,${by - 7} L48,${by - 4} L50,${by - 8} L53,${by} Z`} fill="#7fb87f" stroke="#3f7f3f" strokeWidth={0.7} />}
                <text x={55} y={by} fontFamily={VERD} fontSize={10.5} fill={r.c}>{r.t}</text>
              </g>
            );
          })}
        </g>
        <ellipse cx={x(18.4)} cy={yP(34.0)} rx={38} ry={17} fill="none" stroke="#000" strokeWidth={2} />
        <ellipse cx={x(59.1)} cy={yP(33.57)} rx={38} ry={16} fill="none" stroke="#000" strokeWidth={2} />

        {/* top notes */}
        {TOP_NOTES.map((n, i) => (
          <text key={'tn' + i} x={345} y={376 + i * 17} fontFamily={NARROW} fontSize={13} fontWeight="bold" fill="#111"
            textLength={n.w} lengthAdjust="spacingAndGlyphs">{n.t}</text>
        ))}
        <text x={473} y={463} fontFamily="Liberation Serif, DejaVu Serif, serif" fontStyle="italic" fontSize={25}
          fill="#111" textLength={374} lengthAdjust="spacingAndGlyphs">www.channelsandpatterns.com</text>
        <text x={538} y={488} fontFamily="Liberation Serif, DejaVu Serif, serif" fontStyle="italic" fontSize={25}
          fill="#111" textLength={245} lengthAdjust="spacingAndGlyphs">twitter: shjackcharts</text>

        {/* SEPT box */}
        <rect x={45.5} y={657.5} width={411} height={101} fill="#fff" stroke="#8a8a8a" />
        {SEPT_LINES.map((s, i) => (
          <text key={'sp' + i} x={49} y={674 + i * 16} fontFamily={NARROW} fontSize={12.5} fontWeight="bold" fill="#111"
            textLength={s.w} lengthAdjust="spacingAndGlyphs">{s.t}</text>
        ))}
      </g>

      {/* MACD panel */}
      <g>
        {vGrid(P.macd.top, P.macd.bottom, 'mcg')}
        {MACD_TICKS.map((t) => <line key={'mg' + t} x1={X0} x2={X1} y1={P.macd.y(t)} y2={P.macd.y(t)} stroke={GRID} />)}
        <g clipPath="url(#macdclip)">
          {HIST.map((h, i) => (
            <rect key={'mh' + i} x={fxH(i) - hW / 2} width={hW} y={Math.min(P.macd.y(h), P.macd.y(0))}
              height={Math.max(0.8, Math.abs(P.macd.y(h) - P.macd.y(0)))} fill="#3a659d" />
          ))}
          <path d={macdLine(MACD) || ''} fill="none" stroke="#b0b0b0" strokeWidth={4.5} />
          <path d={macdLine(MACD) || ''} fill="none" stroke="#000" strokeWidth={2.2} />
          <path d={macdLine(SIGNAL) || ''} fill="none" stroke="#ff0000" strokeWidth={1.1} />
        </g>
        <rect x={X0} y={P.macd.top} width={PW} height={P.macd.bottom - P.macd.top} fill="none" stroke={BORDER} />
        {d3.range(-12, 8).map((k) => (
          <line key={'mmt' + k} x1={X1} x2={X1 + 2} y1={P.macd.y(k / 10)} y2={P.macd.y(k / 10)} stroke="#999" />
        ))}
        {MACD_TICKS.map((t) => (
          <g key={'mt' + t}>
            <line x1={X1} x2={X1 + 4} y1={P.macd.y(t)} y2={P.macd.y(t)} stroke="#888" />
            <text x={967} y={P.macd.y(t) + 4} textAnchor="end" fontFamily={SANS} fontSize={11} fill="#222">{t.toFixed(1)}</text>
          </g>
        ))}
        <line x1={44} x2={52} y1={793} y2={793} stroke="#000" strokeWidth={2.5} />
        <text x={55} y={797} fontFamily={VERD} fontSize={10.5} fill="#111">MACD(12,26,9) 0.263<tspan fill="#ff0000">, 0.234</tspan><tspan fill="#1f4f9f">, 0.029</tspan></text>
      </g>

      {/* Histogram panel */}
      <g>
        {vGrid(P.hist.top, P.hist.bottom, 'hg')}
        {HIST_TICKS.map((t) => <line key={'hgl' + t} x1={X0} x2={X1} y1={P.hist.y(t)} y2={P.hist.y(t)} stroke={GRID} />)}
        <g clipPath="url(#histclip)">
          {HIST.map((h, i) => (
            <rect key={'hb' + i} x={fxH(i) - hW / 2 + 0.4} width={hW - 0.8} y={Math.min(P.hist.y(h), P.hist.y(0))}
              height={Math.abs(P.hist.y(h) - P.hist.y(0))} fill="#2f5d97" />
          ))}
        </g>
        <rect x={X0} y={P.hist.top} width={PW} height={P.hist.bottom - P.hist.top} fill="none" stroke={BORDER} />
        {d3.range(-22, 13).map((k) => (
          <line key={'hmt' + k} x1={X1} x2={X1 + 2} y1={P.hist.y(k / 50)} y2={P.hist.y(k / 50)} stroke="#999" />
        ))}
        {HIST_TICKS.map((t) => (
          <g key={'ht' + t}>
            <line x1={X1} x2={X1 + 4} y1={P.hist.y(t)} y2={P.hist.y(t)} stroke="#888" />
            <text x={973} y={P.hist.y(t) + 4} textAnchor="end" fontFamily={SANS} fontSize={11} fill="#222">{t.toFixed(2)}</text>
          </g>
        ))}
        <path d="M44,880 v-5 M46,880 v-8 M48,880 v-4 M50,880 v-7 M52,880 v-3" stroke="#2f5d97" strokeWidth={1.5} />
        <text x={55} y={880} fontFamily={VERD} fontSize={10.5} fill="#111">MACD(12,26,9) Hist 0.029</text>
        {MONTH_LABELS.map((m, i) => (
          <text key={'ml2' + i} x={monthXs[i]} y={1046} textAnchor="middle" fontFamily={SANS} fontSize={11.5}
            fontWeight={m === '2013' ? 'bold' : 'normal'} letterSpacing={0.6} fill="#222">{m}</text>
        ))}
      </g>
    </svg>
  );
}
